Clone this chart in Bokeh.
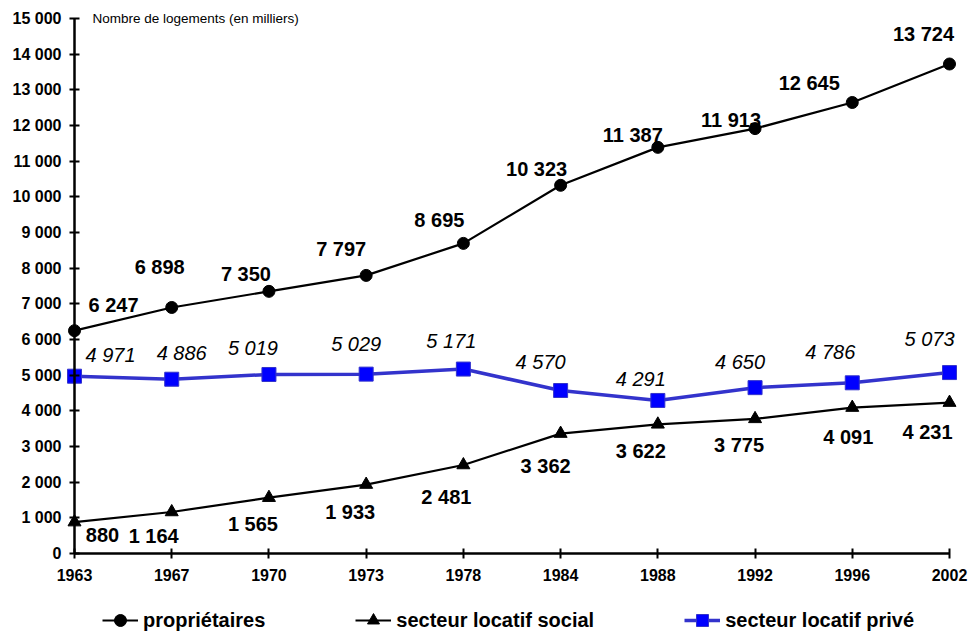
from bokeh.plotting import figure
from bokeh.models import (ColumnDataSource, Range1d, FixedTicker, LabelSet, Label,
                          Legend, LegendItem)
from bokeh.core.properties import value
from bokeh.embed import file_html
from bokeh.resources import INLINE

# ---- data ----
years = ["1963", "1967", "1970", "1973", "1978", "1984", "1988", "1992", "1996", "2002"]
proprietaires = [6247, 6898, 7350, 7797, 8695, 10323, 11387, 11913, 12645, 13724]
locatif_social = [880, 1164, 1565, 1933, 2481, 3362, 3622, 3775, 4091, 4231]
locatif_prive = [4971, 4886, 5019, 5029, 5171, 4570, 4291, 4650, 4786, 5073]
y_ticks = list(range(0, 15001, 1000))

# label placement offsets (screen px, dx right, dy down)
prop_dx = [39, -12, -23, -25, -24, -24, -25, -24, -43, -26]
prop_dy = [-26, -40, -17, -26, -23, -16, -12, -9, -19, -30]
prive_dx = [36, 10, -16, -10, -12, -20, -17, -15, -22, -20]
prive_dy = [-21, -26, -26, -30, -28, -29, -21, -26, -31, -34]
social_dx = [28, -18, -16, -16, -17, -15, -17, -16, -4, -22]
social_dy = [13, 24, 26, 27, 32, 32, 27, 26, 29, 29]

FONT = "Liberation Sans"

# geometry (pixels): plot area spans whole canvas, axes bounded & fixed
W, H = 971, 631
LEFT = 74            # y axis position
X_SPAN = 875         # px between first and last category
Y_TOP_PX = 18        # px from top where 15000 sits
Y_SPAN = 535         # px for 0..15000


def fmt(v):
    return f"{v:,}".replace(",", " ")


idx = list(range(len(years)))
n = len(years) - 1
ymax = y_ticks[-1]
px_per_x = X_SPAN / n
px_per_y = Y_SPAN / ymax
x_start = -LEFT / px_per_x
x_end = n + (W - LEFT - X_SPAN) / px_per_x
y_start = -(H - Y_TOP_PX - Y_SPAN) / px_per_y
y_end = ymax + Y_TOP_PX / px_per_y


def src(vals, dx, dy):
    return ColumnDataSource(dict(
        x=idx, y=vals, txt=[fmt(v) for v in vals],
        dx=dx, dy=[-d for d in dy]))


s_prop = src(proprietaires, prop_dx, prop_dy)
s_soc = src(locatif_social, social_dx, social_dy)
s_priv = src(locatif_prive, prive_dx, prive_dy)

p = figure(width=W, height=H, output_backend="svg", toolbar_location=None,
           x_range=Range1d(x_start, x_end), y_range=Range1d(y_start, y_end),
           min_border_left=0, min_border_right=0, min_border_top=0,
           min_border_bottom=0)
p.outline_line_color = None
p.xgrid.visible = False
p.ygrid.visible = False
p.background_fill_color = "white"
p.border_fill_color = "white"

for ax in (p.xaxis[0], p.yaxis[0]):
    ax.axis_line_width = 2.5
    ax.axis_line_color = "black"
    ax.major_tick_line_width = 2
    ax.major_tick_line_color = "black"
    ax.major_tick_in = 5
    ax.major_tick_out = 5
    ax.minor_tick_line_color = None
    ax.major_label_text_font = FONT
    ax.major_label_text_font_style = "bold"
    ax.major_label_text_font_size = "16px"
    ax.major_label_text_color = "black"

p.xaxis.ticker = FixedTicker(ticks=idx)
p.xaxis.major_label_overrides = {i: y for i, y in zip(idx, years)}
p.xaxis.major_label_standoff = 10
p.xaxis.bounds = (0, n)
p.xaxis.fixed_location = 0
p.yaxis.ticker = FixedTicker(ticks=y_ticks)
p.yaxis.major_label_overrides = {t: fmt(t) for t in y_ticks}
p.yaxis.major_label_standoff = 8
p.yaxis.bounds = (0, ymax)
p.yaxis.fixed_location = 0

# series
l_prop = p.line("x", "y", source=s_prop, line_color="black", line_width=2.2)
m_prop = p.scatter("x", "y", source=s_prop, marker="circle", size=12,
                   fill_color="black", line_color="black")
l_soc = p.line("x", "y", source=s_soc, line_color="black", line_width=2.2)
m_soc = p.scatter("x", "y", source=s_soc, marker="triangle", size=13,
                  fill_color="black", line_color="black")
l_priv = p.line("x", "y", source=s_priv, line_color="#3333CC", line_width=3.5)
m_priv = p.scatter("x", "y", source=s_priv, marker="square", size=14,
                   fill_color="#0000FF", line_color="#3333CC", line_width=1)

# value labels
for s, style in ((s_prop, "bold"), (s_soc, "bold"), (s_priv, "italic")):
    p.add_layout(LabelSet(x="x", y="y", text="txt", source=s,
                          x_offset="dx", y_offset="dy",
                          text_align="center", text_baseline="middle",
                          text_font=value(FONT), text_font_size=value("20px"),
                          text_font_style=value(style), text_color="black"))

p.add_layout(Label(x=0, y=ymax, x_offset=18, text="Nombre de logements (en milliers)",
                   text_font=FONT, text_font_size="13.5px", text_baseline="middle",
                   text_color="black"))

legend = Legend(items=[
    LegendItem(label="propriétaires", renderers=[l_prop, m_prop]),
    LegendItem(label="secteur locatif social", renderers=[l_soc, m_soc]),
    LegendItem(label="secteur locatif privé", renderers=[l_priv, m_priv]),
], orientation="horizontal", location=(102, -4), padding=0, margin=0,
    spacing=90, glyph_width=36, glyph_height=30, label_height=30,
    label_standoff=5, border_line_color=None, background_fill_alpha=0,
    label_text_font=FONT, label_text_font_size="20px",
    label_text_font_style="bold", label_text_color="black")
p.add_layout(legend)

open("out.html", "w").write(file_html(p, INLINE))
